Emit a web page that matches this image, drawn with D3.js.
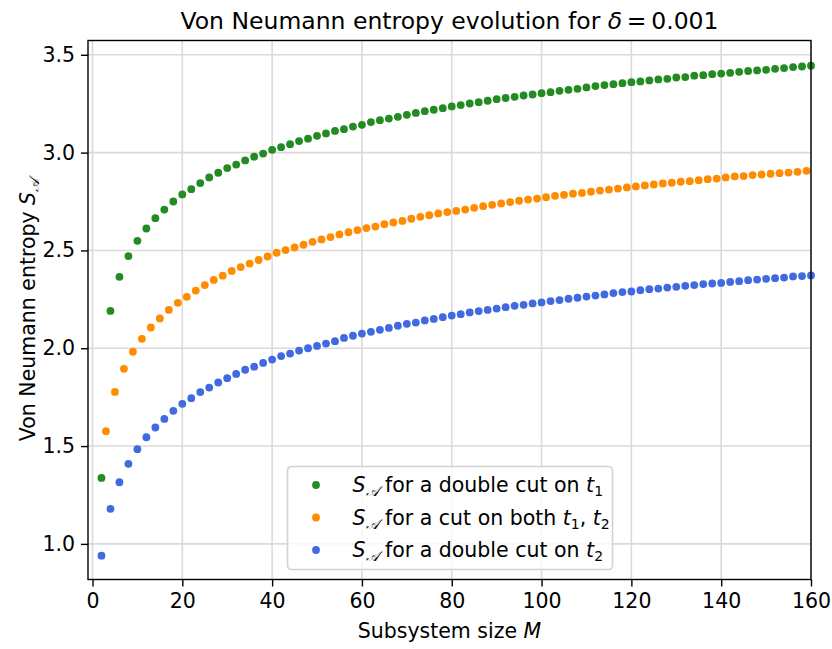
<!DOCTYPE html>
<html>
<head>
<meta charset="utf-8">
<script src="https://cdn.jsdelivr.net/npm/d3@7"></script>
<style>
  body { margin: 0; background: #fff; }
  svg { display: block; font-family: "DejaVu Sans", sans-serif; }
</style>
</head>
<body>
<div id="chart"></div>
<script>
// subsystem sizes
const mEven = d3.range(2, 161, 2);
const mOdd = d3.range(3, 160, 2);

// double cut on t1 (green)
const sDoubleT1 = [
  1.337, 2.191, 2.365, 2.471, 2.549, 2.612, 2.665, 2.709, 2.750, 2.786,
  2.813, 2.844, 2.873, 2.897, 2.921, 2.939, 2.960, 2.979, 2.995, 3.014,
  3.028, 3.043, 3.059, 3.071, 3.086, 3.098, 3.111, 3.120, 3.133, 3.142,
  3.156, 3.166, 3.174, 3.183, 3.193, 3.203, 3.212, 3.219, 3.227, 3.236,
  3.243, 3.251, 3.258, 3.265, 3.273, 3.279, 3.285, 3.292, 3.297, 3.304,
  3.309, 3.316, 3.321, 3.326, 3.333, 3.340, 3.345, 3.350, 3.355, 3.360,
  3.364, 3.369, 3.374, 3.377, 3.384, 3.386, 3.393, 3.396, 3.401, 3.404,
  3.408, 3.413, 3.417, 3.420, 3.423, 3.428, 3.432, 3.437, 3.440, 3.444
];

// cut on both t1, t2 (orange)
const sBoth = [
  1.576, 1.777, 1.895, 1.982, 2.048, 2.106, 2.152, 2.196, 2.232, 2.263,
  2.295, 2.323, 2.349, 2.371, 2.395, 2.415, 2.433, 2.451, 2.469, 2.488,
  2.502, 2.515, 2.529, 2.544, 2.556, 2.568, 2.582, 2.593, 2.604, 2.614,
  2.622, 2.634, 2.643, 2.651, 2.662, 2.672, 2.680, 2.689, 2.696, 2.702,
  2.709, 2.718, 2.726, 2.733, 2.740, 2.747, 2.754, 2.760, 2.765, 2.772,
  2.779, 2.784, 2.790, 2.794, 2.800, 2.806, 2.811, 2.816, 2.822, 2.827,
  2.832, 2.837, 2.842, 2.846, 2.851, 2.854, 2.859, 2.864, 2.867, 2.873,
  2.878, 2.880, 2.885, 2.888, 2.892, 2.895, 2.898, 2.902, 2.907
];

// double cut on t2 (blue)
const sDoubleT2 = [
  0.940, 1.179, 1.315, 1.409, 1.484, 1.545, 1.595, 1.639, 1.680, 1.716,
  1.745, 1.776, 1.799, 1.825, 1.847, 1.869, 1.890, 1.906, 1.925, 1.942,
  1.960, 1.973, 1.988, 2.000, 2.012, 2.024, 2.036, 2.053, 2.064, 2.075,
  2.084, 2.094, 2.104, 2.115, 2.125, 2.131, 2.142, 2.150, 2.159, 2.167,
  2.174, 2.183, 2.190, 2.196, 2.203, 2.210, 2.217, 2.222, 2.229, 2.234,
  2.241, 2.246, 2.253, 2.258, 2.264, 2.269, 2.275, 2.282, 2.287, 2.290,
  2.297, 2.302, 2.305, 2.310, 2.314, 2.319, 2.323, 2.328, 2.331, 2.334,
  2.339, 2.343, 2.348, 2.351, 2.355, 2.358, 2.361, 2.367, 2.369, 2.372
];

const xTicks = [0, 20, 40, 60, 80, 100, 120, 140, 160];
const yTicks = [1.0, 1.5, 2.0, 2.5, 3.0, 3.5];

const series = [
  { m: mEven, s: sDoubleT1, color: "#228b22", label: ["for a double cut on ", "1", null] },
  { m: mOdd, s: sBoth, color: "#ff8c00", label: ["for a cut on both ", "1", "2"] },
  { m: mEven, s: sDoubleT2, color: "#4169e1", label: ["for a double cut on ", "2", null] }
];

const width = 832;
const height = 649;
const margin = { top: 40.5, right: 21, bottom: 69.5, left: 88 };

const svg = d3
  .select("#chart")
  .append("svg")
  .attr("width", width)
  .attr("height", height);

const x = d3.scaleLinear().domain([-1, 160]).range([margin.left, width - margin.right]);
const y = d3.scaleLinear().domain([0.818, 3.573]).range([height - margin.bottom, margin.top]);

// grid
svg.append("g")
  .selectAll("line")
  .data(xTicks)
  .enter()
  .append("line")
  .attr("x1", d => x(d)).attr("x2", d => x(d))
  .attr("y1", margin.top).attr("y2", height - margin.bottom)
  .attr("stroke", "#dadada").attr("stroke-width", 1.6);

svg.append("g")
  .selectAll("line")
  .data(yTicks)
  .enter()
  .append("line")
  .attr("x1", margin.left).attr("x2", width - margin.right)
  .attr("y1", d => y(d)).attr("y2", d => y(d))
  .attr("stroke", "#dadada").attr("stroke-width", 1.6);

// points
series.forEach(sr => {
  svg.append("g")
    .selectAll("circle")
    .data(sr.s)
    .enter()
    .append("circle")
    .attr("cx", (d, i) => x(sr.m[i]))
    .attr("cy", d => y(d))
    .attr("r", 3.9)
    .attr("fill", sr.color);
});

// axes
const xAxis = svg.append("g")
  .attr("transform", `translate(0,${height - margin.bottom})`)
  .call(d3.axisBottom(x).tickValues(xTicks).tickSize(7).tickPadding(7).tickFormat(d3.format("d")));
const yAxis = svg.append("g")
  .attr("transform", `translate(${margin.left},0)`)
  .call(d3.axisLeft(y).tickValues(yTicks).tickSize(7).tickPadding(6).tickFormat(d3.format(".1f")));

[xAxis, yAxis].forEach(ax => {
  ax.select(".domain").remove();
  ax.selectAll("line").attr("stroke", "#000").attr("stroke-width", 1.4);
  ax.selectAll("text").attr("font-size", 20.5).attr("fill", "#000")
    .attr("font-family", "DejaVu Sans");
});

// frame
svg.append("rect")
  .attr("x", margin.left).attr("y", margin.top)
  .attr("width", width - margin.left - margin.right)
  .attr("height", height - margin.bottom - margin.top)
  .attr("fill", "none").attr("stroke", "#000").attr("stroke-width", 1.4);

// title
const title = svg.append("text")
  .attr("x", (margin.left + width - margin.right) / 2)
  .attr("y", 29)
  .attr("text-anchor", "middle")
  .attr("font-size", 23.5);
title.append("tspan").text("Von Neumann entropy evolution for ");
title.append("tspan").attr("font-style", "italic").text("δ");
title.append("tspan").text("\u2009=\u20090.001");

// x label
const xl = svg.append("text")
  .attr("x", (margin.left + width - margin.right) / 2)
  .attr("y", 638)
  .attr("text-anchor", "middle")
  .attr("font-size", 20.5);
xl.append("tspan").text("Subsystem size ");
xl.append("tspan").attr("font-style", "italic").text("M");

// y label
const yl = svg.append("text")
  .attr("transform", `translate(35,${(margin.top + height - margin.bottom) / 2}) rotate(-90)`)
  .attr("text-anchor", "middle")
  .attr("font-size", 20.5);
yl.append("tspan").text("Von Neumann entropy ");
yl.append("tspan").attr("font-style", "italic").text("S");
yl.append("tspan").attr("font-size", 14).attr("dy", 4).attr("font-style", "italic").text("𝒜");

// legend
const lg = svg.append("g").attr("transform", "translate(287.5,466.5)");
lg.append("rect")
  .attr("width", 325).attr("height", 103).attr("rx", 4)
  .attr("fill", "rgba(255,255,255,0.8)")
  .attr("stroke", "#d3d3d3").attr("stroke-width", 1.6);

series.forEach((sr, i) => {
  const row = lg.append("g").attr("transform", `translate(0,${18.5 + i * 32.5})`);
  row.append("circle").attr("cx", 28.5).attr("cy", 0).attr("r", 3.9).attr("fill", sr.color);
  const t = row.append("text").attr("x", 65).attr("y", 7).attr("font-size", 20.5);
  t.append("tspan").attr("font-style", "italic").text("S");
  t.append("tspan").attr("font-size", 14).attr("dy", 4).attr("font-style", "italic").text("𝒜");
  t.append("tspan").attr("dy", -4).text(" " + sr.label[0]);
  t.append("tspan").attr("font-style", "italic").text("t");
  t.append("tspan").attr("font-size", 14).attr("dy", 4).text(sr.label[1]);
  if (sr.label[2]) {
    t.append("tspan").attr("dy", -4).text(", ");
    t.append("tspan").attr("font-style", "italic").text("t");
    t.append("tspan").attr("font-size", 14).attr("dy", 4).text(sr.label[2]);
  }
});
</script>
</body>
</html>
